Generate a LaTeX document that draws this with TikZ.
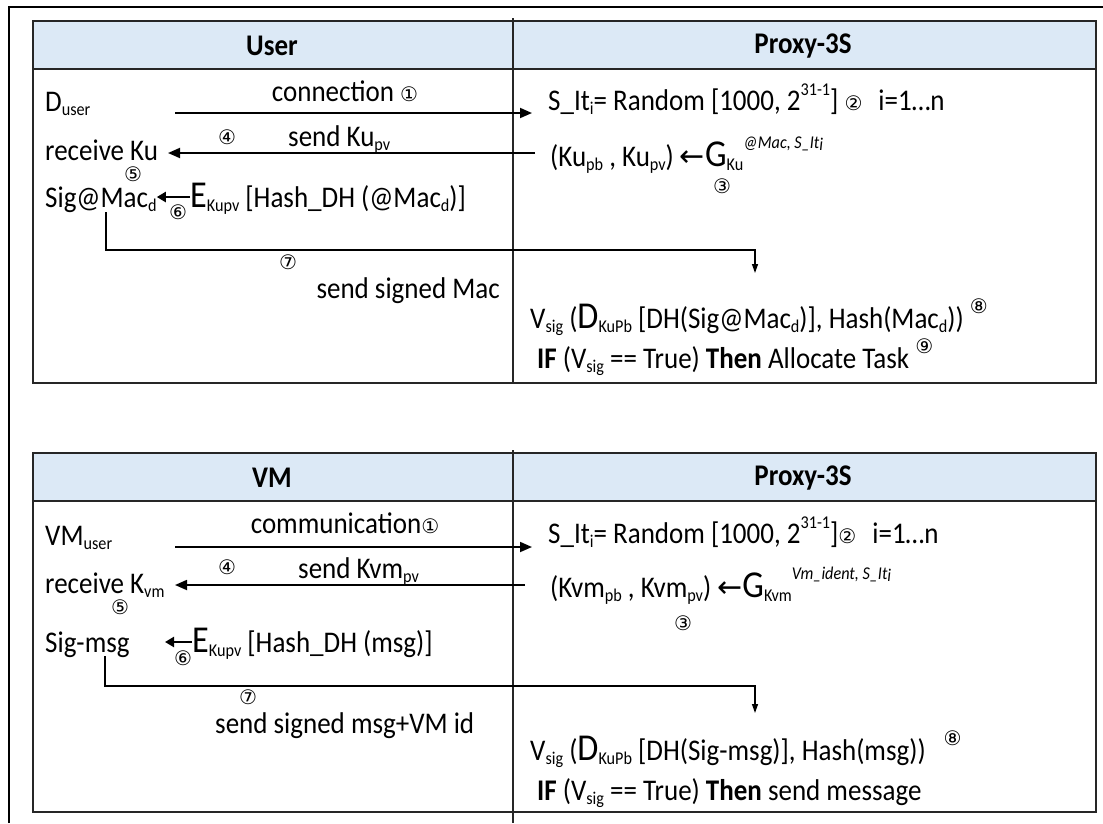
\documentclass[tikz,border=0pt]{standalone}
\usepackage{fontspec}
\setmainfont{Carlito}[FakeStretch=0.9]
\newfontfamily\symfont{DejaVu Sans}
\usetikzlibrary{arrows.meta}
% small lowered / raised text, circled step numbers, enlarged operator letters
\newcommand\sbs[1]{\raisebox{-0.15em}{\fontsize{18}{18}\selectfont #1}}
\newcommand\sps[1]{\raisebox{0.5em}{\fontsize{18}{18}\selectfont #1}}
\newcommand\cn[1]{{\symfont\fontsize{20}{20}\selectfont #1}}
\newcommand\lgch[1]{{\fontsize{38}{38}\selectfont #1}}
\definecolor{headblue}{RGB}{220,233,246}
\begin{document}
\begin{tikzpicture}[x=1pt,y=-1pt,
  frame/.style={line width=1.3pt,draw=black!85},
  txt/.style={anchor=base west,inner sep=0pt,font=\fontsize{30}{34}\selectfont},
  ctxt/.style={txt,anchor=base},
  hdr/.style={inner sep=0pt,font=\fontsize{30}{34}\selectfont\bfseries},
  num/.style={inner sep=0pt,font=\symfont\fontsize{20}{20}\selectfont},
  msg/.style={line width=1.8pt,-{Triangle[length=12pt,width=10pt]}},
  hook/.style={line width=2.2pt,-{Triangle[length=9pt,width=10pt]}},
  flow/.style={line width=1.3pt,-{Triangle[length=9pt,width=6pt]}}]
\useasboundingbox (0,0) rectangle (1103,823);

% outer frame
\draw[line width=1.8pt] (9,823) -- (9,7) -- (1103,7);

% ---------------- upper table: User / Proxy-3S ----------------
\fill[headblue] (33,21) rectangle (1096,69);
\draw[frame] (33,21) rectangle (1096,383);
\draw[frame] (33,69) -- (1096,69);
\draw[frame] (513,18) -- (513,383);
\node[hdr] (hUser) at (272,46) {User};
\node[hdr] (hProxyA) at (803,46) {Proxy-3S};

\node[txt] (duser) at (45,111) {D\sbs{user}};
\node[ctxt] (conn) at (345,101) {connection \cn{①}};
\coordinate (a1s) at (175,113);
\coordinate (a1e) at (532,113);
\draw[msg] (a1s) -- (a1e);
\node[txt] (sitA) at (548,110) {S\_It\sbs{i}= Random [1000, 2\sps{31-1}] \cn{②}\hspace{16pt}i=1…n};

\node[num] (n4A) at (227,137) {④};
\node[txt] (sendKu) at (288,146) {send Ku\sbs{pv}};
\node[txt] (recKu) at (45,160) {receive Ku};
\node[num] (n5A) at (133,174) {⑤};
\coordinate (a4s) at (535,153);
\coordinate (a4e) at (168,153);
\draw[msg] (a4s) -- (a4e);
\node[txt] (kupair) at (550,166) {(Ku\sbs{pb} , Ku\sbs{pv}) {\symfont ←}\lgch{G}\sbs{Ku}\raisebox{0.6em}{\fontsize{18}{18}\selectfont\itshape @Mac, S\_It\sbs{i}}};
\node[num] (n3A) at (722,186) {③};

\node[txt] (sigmac) at (45,207) {Sig@Mac\sbs{d}};
\node[txt] (ekupvA) at (190,207) {\lgch{E}\sbs{Kupv} [Hash\_DH (@Mac\sbs{d})]};
\node[num] (n6A) at (178,212) {⑥};
\draw[hook] (ekupvA.west |- 0,197) -- (sigmac.east |- 0,197);

\coordinate (c7sA) at (106,212);
\coordinate (c7eA) at (755,273);
\draw[flow] (c7sA) -- (106,250) -| (c7eA);
\node[num] (n7A) at (288,262) {⑦};
\node[txt,anchor=base east] (signedMac) at (500,298) {send signed Mac};

\node[txt] (vsigA) at (530,328) {V\sbs{sig} (\lgch{D}\sbs{KuPb} [DH(Sig@Mac\sbs{d})], Hash(Mac\sbs{d})) \sps{\cn{⑧}}};
\node[txt] (ifA) at (537,368) {\textbf{IF} (V\sbs{sig} == True) \textbf{Then} Allocate Task \sps{\cn{⑨}}};

% ---------------- lower table: VM / Proxy-3S ----------------
\fill[headblue] (33,453) rectangle (1096,501);
\draw[frame] (33,453) rectangle (1096,812);
\draw[frame] (33,501) -- (1096,501);
\draw[frame] (513,450) -- (513,823);
\node[hdr] (hVM) at (272,478) {VM};
\node[hdr] (hProxyB) at (803,478) {Proxy-3S};

\node[txt] (vmuser) at (45,545) {VM\sbs{user}};
\node[ctxt] (comm) at (345,533) {communication\cn{①}};
\coordinate (b1s) at (175,547);
\coordinate (b1e) at (532,547);
\draw[msg] (b1s) -- (b1e);
\node[txt] (sitB) at (548,543) {S\_It\sbs{i}= Random [1000, 2\sps{31-1}]\cn{②}\hspace{16pt}i=1…n};

\node[num] (n4B) at (227,567) {④};
\node[txt] (sendKvm) at (298,578) {send Kvm\sbs{pv}};
\node[txt] (recKvm) at (45,593) {receive K\sbs{vm}};
\node[num] (n5B) at (120,607) {⑤};
\coordinate (b4s) at (525,585);
\coordinate (b4e) at (175,585);
\draw[msg] (b4s) -- (b4e);
\node[txt] (kvmpair) at (550,597) {(Kvm\sbs{pb} , Kvm\sbs{pv}) {\symfont ←}\lgch{G}\sbs{Kvm}\raisebox{0.6em}{\fontsize{18}{18}\selectfont\itshape Vm\_ident, S\_It\sbs{i}}};
\node[num] (n3B) at (683,623) {③};

\node[txt] (sigmsg) at (45,652) {Sig-msg};
\node[txt] (ekupvB) at (192,652) {\lgch{E}\sbs{Kupv} [Hash\_DH (msg)]};
\node[num] (n6B) at (183,658) {⑥};
\draw[hook] (ekupvB.west |- 0,642) -- (165,642);

\coordinate (c7sB) at (105,656);
\coordinate (c7eB) at (755,713);
\draw[flow] (c7sB) -- (105,686) -| (c7eB);
\node[num] (n7B) at (248,697) {⑦};
\node[txt] (signedMsg) at (215,733) {send signed msg+VM id};

\node[txt] (vsigB) at (530,760) {V\sbs{sig} (\lgch{D}\sbs{KuPb} [DH(Sig-msg)], Hash(msg))\hspace{18pt}\sps{\cn{⑧}}};
\node[txt] (ifB) at (537,800) {\textbf{IF} (V\sbs{sig} == True) \textbf{Then} send message};
\end{tikzpicture}
\end{document}
